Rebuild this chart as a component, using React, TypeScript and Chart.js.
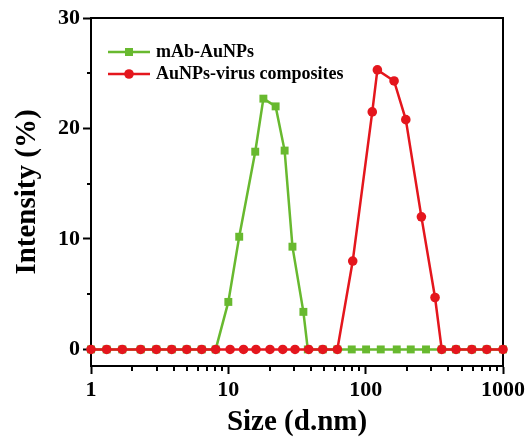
import { useEffect, useRef } from "react";
import { Chart, registerables } from "chart.js";

Chart.register(...registerables);

// mAb-AuNPs size distribution (d.nm) and intensity (%)
const mAbSizes = [1.0, 1.3, 1.69, 2.3, 2.99, 3.87, 4.98, 6.4, 8.09, 10.0, 12.0, 15.7, 18.0, 22.1, 25.7, 29.3, 35.2, 37.9, 48.7, 62.2, 79.2, 100.7, 128.8, 168.4, 213, 275, 358, 455, 593, 762, 1000];
const mAbIntensity = [0, 0, 0, 0, 0, 0, 0, 0, 0, 4.3, 10.2, 17.9, 22.7, 22.0, 18.0, 9.3, 3.4, 0, 0, 0, 0, 0, 0, 0, 0, 0, 0, 0, 0, 0, 0];

// AuNPs-virus composites size distribution (d.nm) and intensity (%)
const compSizes = [1.0, 1.3, 1.69, 2.3, 2.99, 3.87, 4.98, 6.4, 8.09, 10.3, 12.9, 15.9, 20.1, 24.9, 30.6, 38.5, 48.7, 62.2, 80.5, 111.7, 121.7, 161, 196, 254.6, 320, 358, 455, 593, 762, 1000];
const compIntensity = [0, 0, 0, 0, 0, 0, 0, 0, 0, 0, 0, 0, 0, 0, 0, 0, 0, 0, 8.0, 21.5, 25.3, 24.3, 20.8, 12.0, 4.7, 0, 0, 0, 0, 0];

const seriesLabels = ["mAb-AuNPs", "AuNPs-virus composites"];
const yTickValues = [0, 10, 20, 30];
const yMinorTicks = [5, 15, 25];
const xTickValues = [1, 10, 100, 1000];
const xMinorTicks = [2, 3, 4, 5, 6, 7, 8, 9, 20, 30, 40, 50, 60, 70, 80, 90, 200, 300, 400, 500, 600, 700, 800, 900];

const FONT = '"Liberation Serif", "Times New Roman", serif';
const GREEN = "#68b92f";
const RED = "#e4161d";

const framePlugin = {
  id: "frameAndLegend",
  beforeDatasetsDraw(chart: any) {
    const { ctx, chartArea: a, scales } = chart;
    ctx.save();
    ctx.strokeStyle = "#000";
    ctx.lineWidth = 2;
    ctx.beginPath();
    ctx.moveTo(a.left, a.top);
    ctx.lineTo(a.right, a.top);
    ctx.lineTo(a.right, a.bottom);
    ctx.stroke();
    ctx.beginPath();
    yMinorTicks.forEach((v) => {
      const y = Math.round(scales.y.getPixelForValue(v));
      ctx.moveTo(a.left - 4, y);
      ctx.lineTo(a.left, y);
    });
    xMinorTicks.forEach((v) => {
      const x = Math.round(scales.x.getPixelForValue(v));
      ctx.moveTo(x, a.bottom);
      ctx.lineTo(x, a.bottom + 5);
    });
    ctx.stroke();
    ctx.restore();
  },
  afterDatasetsDraw(chart: any) {
    const { ctx } = chart;
    const rows = [
      { y: 52, color: GREEN, shape: "rect", text: chart.data.datasets[0].label },
      { y: 74, color: RED, shape: "circle", text: chart.data.datasets[1].label },
    ];
    ctx.save();
    rows.forEach((r) => {
      ctx.strokeStyle = r.color;
      ctx.fillStyle = r.color;
      ctx.lineWidth = 2.5;
      ctx.beginPath();
      ctx.moveTo(108, r.y);
      ctx.lineTo(150, r.y);
      ctx.stroke();
      if (r.shape === "rect") {
        ctx.fillRect(125, r.y - 4, 8, 8);
      } else {
        ctx.beginPath();
        ctx.arc(129, r.y, 4.8, 0, Math.PI * 2);
        ctx.fill();
      }
      ctx.fillStyle = "#000";
      ctx.font = `bold 18px ${FONT}`;
      ctx.textBaseline = "middle";
      ctx.textAlign = "left";
      ctx.fillText(r.text, 156, r.y);
    });
    ctx.restore();
  },
};

export default function App() {
  const ref = useRef<HTMLCanvasElement | null>(null);
  useEffect(() => {
    if (!ref.current) return;
    const tickFont = { family: FONT, size: 22, weight: "bold" as const };
    const titleFont = { family: FONT, size: 29, weight: "bold" as const };
    const chart = new Chart(ref.current, {
      type: "line",
      data: {
        datasets: [
          {
            label: seriesLabels[0],
            data: mAbSizes.map((x, i) => ({ x, y: mAbIntensity[i] })),
            borderColor: GREEN,
            backgroundColor: GREEN,
            borderWidth: 2.5,
            pointStyle: "rect",
            pointRadius: 5.6,
            pointBorderWidth: 0,
            tension: 0,
            clip: false as any,
            order: 2,
          },
          {
            label: seriesLabels[1],
            data: compSizes.map((x, i) => ({ x, y: compIntensity[i] })),
            borderColor: RED,
            backgroundColor: RED,
            borderWidth: 2.5,
            pointStyle: "circle",
            pointRadius: 4.8,
            pointBorderWidth: 0,
            tension: 0,
            clip: false as any,
            order: 1,
          },
        ],
      },
      options: {
        animation: false,
        responsive: false,
        devicePixelRatio: 1,
        layout: { padding: { left: 0, top: 18, right: 26, bottom: 0 } },
        plugins: { legend: { display: false }, tooltip: { enabled: false } },
        scales: {
          x: {
            type: "logarithmic",
            position: "bottom",
            min: 1,
            max: 1000,
            afterBuildTicks: (s: any) => {
              s.ticks = xTickValues.map((v) => ({ value: v }));
            },
            afterFit: (s: any) => {
              s.height = 74;
            },
            ticks: {
              callback: (v: any) => String(v),
              font: tickFont,
              color: "#000",
              padding: 3,
              maxRotation: 0,
              autoSkip: false,
            },
            grid: { drawOnChartArea: false, tickLength: 8, tickWidth: 2, tickColor: "#000" },
            border: { color: "#000", width: 2 },
            title: { display: true, text: "Size (d.nm)", font: titleFont, color: "#000", padding: { top: 0, bottom: 0 } },
          },
          y: {
            type: "linear",
            min: -1.5,
            max: 30,
            afterBuildTicks: (s: any) => {
              s.ticks = yTickValues.map((v) => ({ value: v }));
            },
            afterFit: (s: any) => {
              s.width = 91;
            },
            ticks: { font: tickFont, color: "#000", padding: 3 },
            grid: { drawOnChartArea: false, tickLength: 8, tickWidth: 2, tickColor: "#000" },
            border: { color: "#000", width: 2 },
            title: { display: true, text: "Intensity (%)", font: titleFont, color: "#000", padding: { top: 10, bottom: 0 } },
          },
        },
      },
      plugins: [framePlugin],
    });
    return () => chart.destroy();
  }, []);
  return (
    <div style={{ position: "absolute", left: 0, top: 0, width: 529, height: 440, background: "#fff" }}>
      <canvas ref={ref} width={529} height={440} style={{ width: 529, height: 440 }} />
    </div>
  );
}
